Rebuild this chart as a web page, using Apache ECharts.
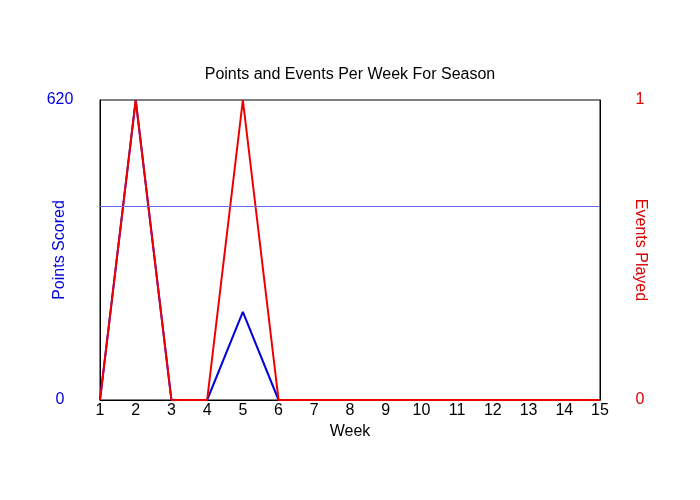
<!DOCTYPE html>
<html><head><meta charset="utf-8">
<script src="https://cdn.jsdelivr.net/npm/echarts@6/dist/echarts.min.js"></script>
<style>html,body{margin:0;background:#fff}#c{width:700px;height:500px}</style>
</head><body><div id="c"></div>
<script>
const weeks = ['1','2','3','4','5','6','7','8','9','10','11','12','13','14','15'];
const points = [0,620,0,0,182,0,0,0,0,0,0,0,0,0,0];
const events = [0,1,0,0,1,0,0,0,0,0,0,0,0,0,0];
const refLine = 401;
const font = 'Arial, Liberation Sans, sans-serif';
const chart = echarts.init(document.getElementById('c'));
chart.setOption({
  backgroundColor:'#fff',
  animation:false,
  title:{text:'Points and Events Per Week For Season',left:'center',top:62,textStyle:{fontFamily:font,fontSize:16,fontWeight:'normal',color:'#000'}},
  grid:{left:100,right:100,top:100,bottom:100,show:true,borderColor:'#000',borderWidth:1,backgroundColor:'transparent'},
  graphic:[
    {type:'text',x:60,y:250,rotation:Math.PI/2,style:{text:'Points Scored',fill:'#0000dd',font:'16px '+font,align:'center',verticalAlign:'middle'}},
    {type:'text',x:640,y:250,rotation:-Math.PI/2,style:{text:'Events Played',fill:'#dd0000',font:'16px '+font,align:'center',verticalAlign:'middle'}}
  ],
  xAxis:{type:'category',data:weeks,boundaryGap:false,name:'Week',nameLocation:'middle',nameGap:22,
    nameTextStyle:{fontFamily:font,fontSize:16,color:'#000'},
    axisLine:{lineStyle:{color:'#000'}},axisTick:{show:false},splitLine:{show:false},
    axisLabel:{fontFamily:font,fontSize:16,color:'#000',margin:3}},
  yAxis:[
    {type:'value',min:0,max:620,interval:620,
      axisLine:{show:true,lineStyle:{color:'#000'}},axisTick:{show:false},splitLine:{show:false},
      axisLabel:{fontFamily:font,fontSize:16,color:'#0000dd',margin:40,align:'center'}},
    {type:'value',min:0,max:1,interval:1,
      axisLine:{show:true,lineStyle:{color:'#000'}},axisTick:{show:false},splitLine:{show:false},
      axisLabel:{fontFamily:font,fontSize:16,color:'#dd0000',margin:40,align:'center'}}
  ],
  series:[
    {type:'line',yAxisIndex:0,data:points,symbol:'none',lineStyle:{color:'#0000dd',width:2},
      markLine:{silent:true,symbol:'none',label:{show:false},lineStyle:{color:'#6666ee',width:1,type:'solid'},data:[{yAxis:refLine}]}},
    {type:'line',yAxisIndex:1,data:events,symbol:'none',lineStyle:{color:'#ee0000',width:2}}
  ]
});
</script></body></html>
